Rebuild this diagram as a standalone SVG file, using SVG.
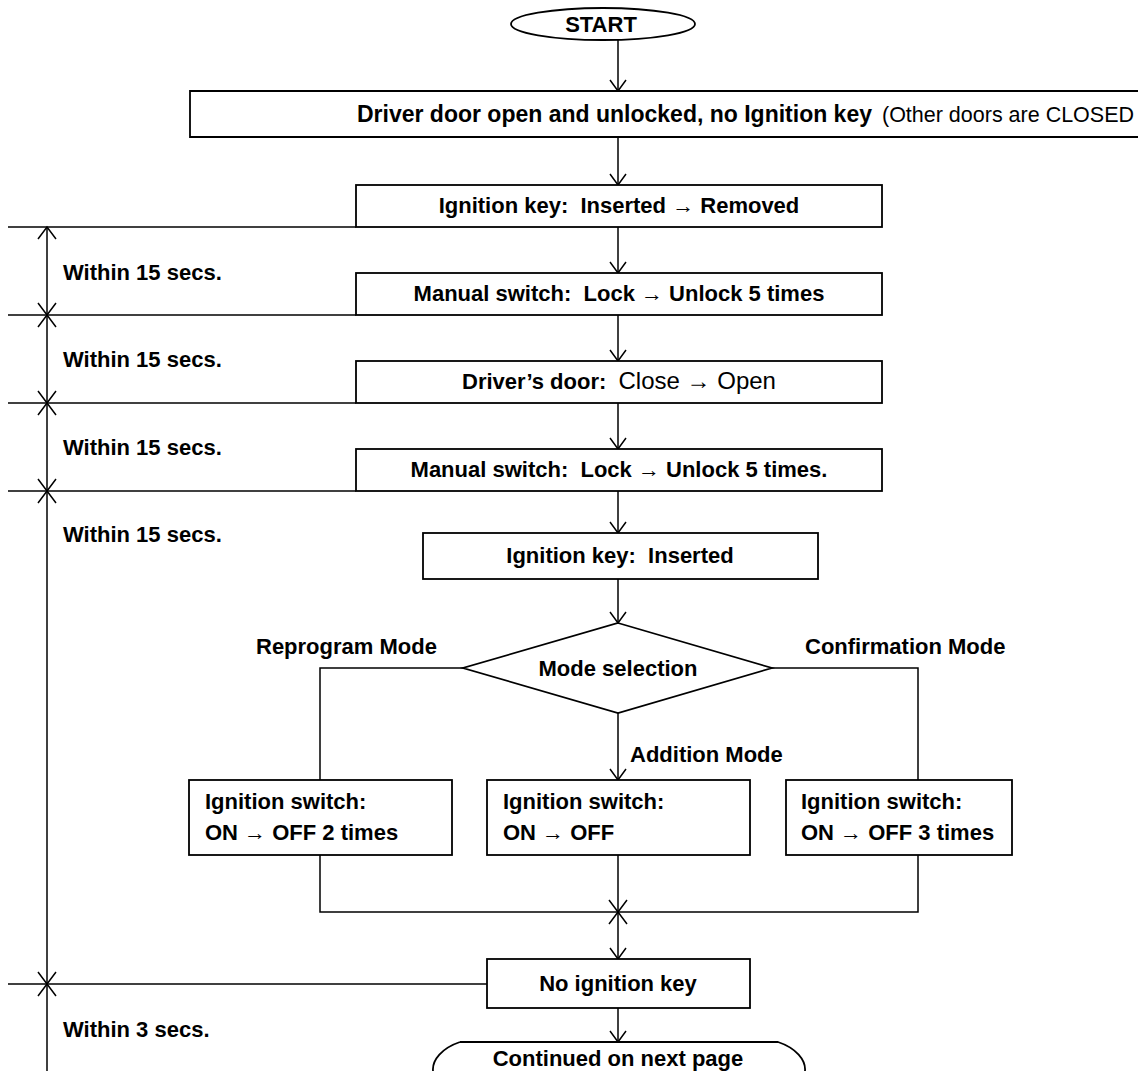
<svg xmlns="http://www.w3.org/2000/svg" width="1138" height="1071" viewBox="0 0 1138 1071">
<defs>
<style>
.b{fill:#fff;stroke:#000;stroke-width:1.8}
.l{fill:none;stroke:#000;stroke-width:1.5}
.t{font-family:"Liberation Sans",Arial,sans-serif;font-weight:bold;font-size:22px;fill:#000;white-space:pre}
.big{font-size:23px}
.c{text-anchor:middle}
.r{font-family:"Liberation Sans",Arial,sans-serif;font-weight:normal;fill:#000}
</style>
<marker id="ah" viewBox="-14 -10 16 20" markerWidth="16" markerHeight="20" refX="0" refY="0" orient="auto" markerUnits="userSpaceOnUse">
<path d="M-11,-8 L0,0 L-11,8" fill="none" stroke="#000" stroke-width="1.5"/>
</marker>
</defs>
<rect width="1138" height="1071" fill="#fff"/>

<g id="connectors">
<line class="l" x1="618" y1="40" x2="618" y2="91" marker-end="url(#ah)"/>
<line class="l" x1="618" y1="137" x2="618" y2="185" marker-end="url(#ah)"/>
<line class="l" x1="618" y1="227" x2="618" y2="273" marker-end="url(#ah)"/>
<line class="l" x1="618" y1="315" x2="618" y2="361" marker-end="url(#ah)"/>
<line class="l" x1="618" y1="403" x2="618" y2="449" marker-end="url(#ah)"/>
<line class="l" x1="618" y1="491" x2="618" y2="533" marker-end="url(#ah)"/>
<line class="l" x1="618" y1="579" x2="618" y2="623" marker-end="url(#ah)"/>
<path class="l" d="M463,668 H320 V780"/>
<line class="l" x1="618" y1="713" x2="618" y2="780" marker-end="url(#ah)"/>
<path class="l" d="M772,668 H918 V780"/>
<path class="l" d="M320,855 V912 H918 V855"/>
<line class="l" x1="618" y1="855" x2="618" y2="959" marker-end="url(#ah)"/>
<path class="l" d="M609,900 L627,924 M627,900 L609,924"/>
<line class="l" x1="618" y1="1008" x2="618" y2="1042" marker-end="url(#ah)"/>
</g>

<g id="timeline">
<line class="l" x1="47" y1="227" x2="47" y2="1071"/>
<line class="l" x1="8" y1="227" x2="356" y2="227"/>
<line class="l" x1="8" y1="315" x2="356" y2="315"/>
<line class="l" x1="8" y1="403" x2="356" y2="403"/>
<line class="l" x1="8" y1="491" x2="356" y2="491"/>
<line class="l" x1="8" y1="984" x2="487" y2="984"/>
<path class="l" d="M38,239 L47,227 L56,239"/>
<path class="l" d="M38,303 L56,327 M56,303 L38,327"/>
<path class="l" d="M38,391 L56,415 M56,391 L38,415"/>
<path class="l" d="M38,479 L56,503 M56,479 L38,503"/>
<path class="l" d="M38,972 L56,996 M56,972 L38,996"/>
<text class="t" x="63" y="280">Within 15 secs.</text>
<text class="t" x="63" y="367">Within 15 secs.</text>
<text class="t" x="63" y="455">Within 15 secs.</text>
<text class="t" x="63" y="542">Within 15 secs.</text>
<text class="t" x="63" y="1037">Within 3 secs.</text>
</g>

<g id="start">
<ellipse class="b" cx="603" cy="24" rx="92" ry="16"/>
<text class="t c" x="601" y="32">START</text>
</g>

<g id="n1">
<path class="b" d="M1138,91 H190 V137 H1138"/>
<text class="t big" x="357" y="122">Driver door open and unlocked, no Ignition key</text>
<text class="r" x="882" y="122" font-size="22" textLength="252" lengthAdjust="spacingAndGlyphs">(Other doors are CLOSED</text>
</g>

<g id="n2">
<rect class="b" x="356" y="185" width="526" height="42"/>
<text class="t c" x="619" y="213">Ignition key:  Inserted → Removed</text>
</g>

<g id="n3">
<rect class="b" x="356" y="273" width="526" height="42"/>
<text class="t c" x="619" y="301">Manual switch:  Lock → Unlock 5 times</text>
</g>

<g id="n4">
<rect class="b" x="356" y="361" width="526" height="42"/>
<text class="t c" x="619" y="389">Driver’s door:  <tspan class="r" font-size="24">Close → Open</tspan></text>
</g>

<g id="n5">
<rect class="b" x="356" y="449" width="526" height="42"/>
<text class="t c" x="619" y="477">Manual switch:  Lock → Unlock 5 times.</text>
</g>

<g id="n6">
<rect class="b" x="423" y="533" width="395" height="46"/>
<text class="t c" x="620" y="563">Ignition key:  Inserted</text>
</g>

<g id="decision">
<polygon class="b" points="618,623 772,668 618,713 463,668"/>
<text class="t c" x="618" y="676">Mode selection</text>
<text class="t" x="256" y="654">Reprogram Mode</text>
<text class="t" x="805" y="654">Confirmation Mode</text>
<text class="t" x="630" y="762">Addition Mode</text>
</g>

<g id="reprogram">
<rect class="b" x="189" y="780" width="263" height="75"/>
<text class="t" x="205" y="809">Ignition switch:</text>
<text class="t" x="205" y="840">ON → OFF 2 times</text>
</g>

<g id="addition">
<rect class="b" x="487" y="780" width="263" height="75"/>
<text class="t" x="503" y="809">Ignition switch:</text>
<text class="t" x="503" y="840">ON → OFF</text>
</g>

<g id="confirmation">
<rect class="b" x="786" y="780" width="226" height="75"/>
<text class="t" x="801" y="809">Ignition switch:</text>
<text class="t" x="801" y="840">ON → OFF 3 times</text>
</g>

<g id="n7">
<rect class="b" x="487" y="959" width="263" height="49"/>
<text class="t c" x="618" y="991">No ignition key</text>
</g>

<g id="end">
<path class="b" d="M460,1042 H778 C796,1048 806,1060 805,1071 M460,1042 C442,1048 432,1060 433,1071"/>
<text class="t c" x="618" y="1066">Continued on next page</text>
</g>
</svg>
